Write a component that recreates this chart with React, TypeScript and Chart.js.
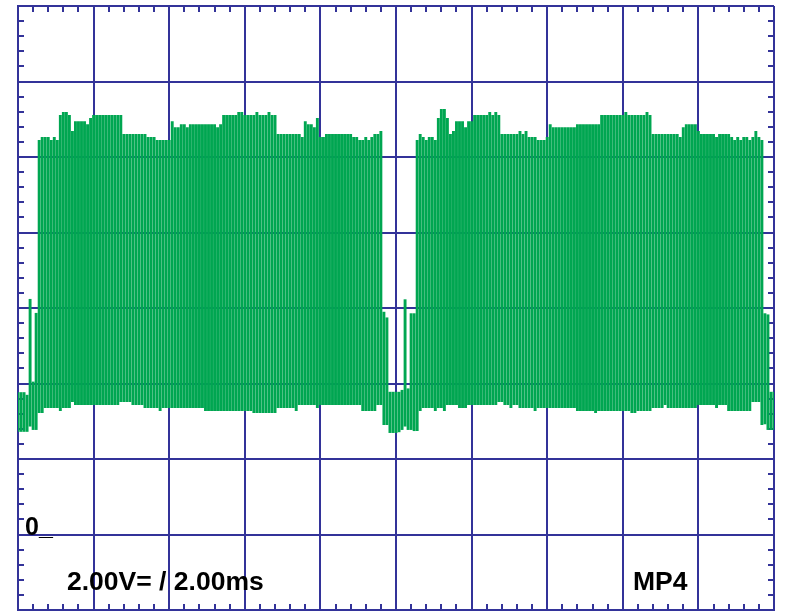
import React, { useEffect, useRef } from "react";
import { Chart, registerables } from "chart.js";

Chart.register(...registerables);

// ---- axes (oscilloscope screen: 2.00 V/div, 2.00 ms/div) ----
const X_MIN_MS = 0;
const X_MAX_MS = 20;
const X_DIV_MS = 2;
const Y_MIN_V = -2;
const Y_MAX_V = 14;
const Y_DIV_V = 2;
const MINOR_PER_DIV = 5;
const SAMPLE_MS = 0.08; // spacing of the min/max samples on the time axis

// ---- labels ----
const groundLabel = "0_";
const scaleLabel = "2.00V= / 2.00ms";
const channelLabel = "MP4";

// ---- waveform (volts): [max, min] of every sample column ----
// idle before first burst
const leadTop = [3.77, 3.77, 3.77, 3.7, 6.24, 4.05, 5.87];
const leadBottom = [2.72, 2.72, 2.72, 2.72, 2.86, 2.77, 2.77];

// first burst: runs of [number of samples, volts]
const burst1TopRuns: [number, number][] = [
  [1, 10.45], [3, 10.53], [1, 10.45], [1, 10.53], [1, 10.45], [1, 11.11], [2, 11.19], [1, 11.11],
  [1, 10.69], [4, 10.95], [1, 10.87], [1, 11.03], [10, 11.11], [8, 10.61], [3, 10.53], [5, 10.45],
  [1, 10.95], [2, 10.79], [2, 10.87], [1, 10.79], [9, 10.87], [1, 10.79], [1, 10.87], [5, 11.11],
  [2, 11.19], [4, 11.11], [1, 11.19], [3, 11.11], [1, 11.19], [2, 11.11], [8, 10.61], [1, 10.53],
  [1, 10.95], [2, 10.87], [1, 10.79], [1, 11.03], [2, 10.53], [9, 10.61], [2, 10.53], [2, 10.45],
  [1, 10.53], [1, 10.45], [1, 10.53], [2, 10.61], [1, 10.69],
];
const burst1BottomRuns: [number, number][] = [
  [2, 3.22], [5, 3.35], [1, 3.27], [3, 3.35], [1, 3.51], [15, 3.43], [4, 3.51], [4, 3.43],
  [5, 3.35], [1, 3.27], [14, 3.35], [16, 3.27], [8, 3.22], [6, 3.35], [1, 3.27], [6, 3.43],
  [1, 3.35], [14, 3.43], [5, 3.27], [2, 3.43],
];

// idle between bursts
const gapTop = [5.9, 5.75, 3.78, 3.78, 3.78, 3.78, 3.83, 6.23, 3.87, 5.86, 5.86];
const gapBottom = [2.9, 2.9, 2.69, 2.69, 2.69, 2.71, 2.77, 2.86, 2.77, 2.77, 2.74];

// second burst
const burst2TopRuns: [number, number][] = [
  [1, 10.45], [1, 10.61], [1, 10.53], [1, 10.45], [2, 10.53], [1, 10.45], [1, 11.03], [2, 11.27],
  [1, 11.03], [1, 10.61], [1, 10.69], [3, 10.95], [1, 10.79], [2, 10.95], [5, 11.11], [1, 11.19],
  [1, 11.11], [1, 11.19], [1, 11.11], [6, 10.61], [1, 10.69], [1, 10.61], [1, 10.69], [3, 10.53],
  [3, 10.45], [1, 10.53], [1, 10.87], [8, 10.79], [8, 10.87], [8, 11.11], [1, 11.19], [6, 11.11],
  [1, 11.19], [1, 11.11], [9, 10.61], [1, 10.53], [1, 10.79], [4, 10.87], [1, 10.69], [5, 10.61],
  [1, 10.53], [4, 10.61], [1, 10.53], [1, 10.45], [1, 10.53], [1, 10.45], [2, 10.53], [1, 10.45],
  [1, 10.53], [1, 10.69], [1, 10.53], [1, 10.45],
];
const burst2BottomRuns: [number, number][] = [
  [1, 2.74], [1, 3.27], [4, 3.35], [1, 3.27], [2, 3.35], [1, 3.27], [4, 3.43], [3, 3.35],
  [10, 3.43], [2, 3.51], [2, 3.43], [1, 3.35], [2, 3.43], [5, 3.35], [1, 3.27], [13, 3.35],
  [6, 3.27], [1, 3.22], [11, 3.27], [2, 3.22], [5, 3.27], [4, 3.35], [1, 3.43], [10, 3.35],
  [6, 3.43], [1, 3.35], [3, 3.43], [8, 3.27], [3, 3.51], [1, 2.9],
];

// idle after second burst
const tailTop = [5.86, 5.83, 3.78, 3.78];
const tailBottom = [2.92, 2.77, 2.77, 2.77];

// ---- colours ----
const GRID_COLOR = "#333399";
const TRACE_COLOR = "#00A651";

function expandRuns(runs: [number, number][]): number[] {
  const out: number[] = [];
  runs.forEach(([n, v]) => {
    for (let k = 0; k < n; k++) out.push(v);
  });
  return out;
}

const traceMax = [...leadTop, ...expandRuns(burst1TopRuns), ...gapTop, ...expandRuns(burst2TopRuns), ...tailTop];
const traceMin = [
  ...leadBottom,
  ...expandRuns(burst1BottomRuns),
  ...gapBottom,
  ...expandRuns(burst2BottomRuns),
  ...tailBottom,
];

const minorTicksPlugin = {
  id: "scopeMinorTicks",
  beforeDatasetsDraw(chart: any) {
    const { ctx, chartArea, scales } = chart;
    const { left, right, top, bottom } = chartArea;
    const xs = scales.x;
    const ys = scales.y;
    const len = 6;
    ctx.save();
    ctx.strokeStyle = GRID_COLOR;
    ctx.lineWidth = 2;
    ctx.beginPath();
    const xSteps = ((X_MAX_MS - X_MIN_MS) / X_DIV_MS) * MINOR_PER_DIV;
    for (let j = 1; j < xSteps; j++) {
      if (j % MINOR_PER_DIV === 0) continue;
      const v = X_MIN_MS + (j * X_DIV_MS) / MINOR_PER_DIV;
      const p = Math.round(xs.getPixelForValue(v));
      ctx.moveTo(p, top);
      ctx.lineTo(p, top + len);
      ctx.moveTo(p, bottom);
      ctx.lineTo(p, bottom - len);
    }
    const ySteps = ((Y_MAX_V - Y_MIN_V) / Y_DIV_V) * MINOR_PER_DIV;
    for (let j = 1; j < ySteps; j++) {
      if (j % MINOR_PER_DIV === 0) continue;
      const v = Y_MIN_V + (j * Y_DIV_V) / MINOR_PER_DIV;
      const p = Math.round(ys.getPixelForValue(v));
      ctx.moveTo(left, p);
      ctx.lineTo(left + len, p);
      ctx.moveTo(right, p);
      ctx.lineTo(right - len, p);
    }
    ctx.stroke();
    ctx.restore();
  },
};

const labelFont = '"Liberation Sans", Arial, Helvetica, sans-serif';

export default function App() {
  const canvasRef = useRef<HTMLCanvasElement | null>(null);

  useEffect(() => {
    const canvas = canvasRef.current;
    if (!canvas) return;
    const data = traceMax.map((hi, i) => ({ x: X_MIN_MS + i * SAMPLE_MS, y: [traceMin[i], hi] }));
    const chart = new Chart(canvas, {
      type: "bar",
      data: {
        datasets: [
          {
            data: data as any,
            backgroundColor: TRACE_COLOR,
            borderWidth: 0,
            categoryPercentage: 1,
            barPercentage: 0.96,
          } as any,
        ],
      },
      options: {
        animation: false,
        responsive: false,
        maintainAspectRatio: false,
        events: [],
        layout: { padding: { left: 18, top: 6, right: 12, bottom: 3 } },
        plugins: {
          legend: { display: false },
          tooltip: { enabled: false },
          title: { display: false },
        },
        scales: {
          x: {
            type: "linear",
            min: X_MIN_MS,
            max: X_MAX_MS,
            offset: false,
            ticks: { display: false, stepSize: X_DIV_MS },
            grid: { color: GRID_COLOR, lineWidth: 2, drawTicks: false, offset: false },
            border: { display: true, color: GRID_COLOR, width: 2 },
          },
          y: {
            type: "linear",
            min: Y_MIN_V,
            max: Y_MAX_V,
            ticks: { display: false, stepSize: Y_DIV_V },
            grid: { color: GRID_COLOR, lineWidth: 2, drawTicks: false },
            border: { display: true, color: GRID_COLOR, width: 2 },
          },
        },
      },
      plugins: [minorTicksPlugin],
    });
    return () => chart.destroy();
  }, []);

  const textBase: React.CSSProperties = {
    position: "absolute",
    fontFamily: labelFont,
    fontWeight: "bold",
    lineHeight: 1,
    color: "#000",
    whiteSpace: "pre",
    margin: 0,
  };

  return (
    <div style={{ position: "fixed", left: 0, top: 0, width: 786, height: 613, background: "#fff" }}>
      <canvas ref={canvasRef} width={786} height={613} style={{ display: "block", width: 786, height: 613 }} />
      <div style={{ ...textBase, left: 25, top: 514, fontSize: 25 }}>{groundLabel}</div>
      <div style={{ ...textBase, left: 67, top: 567.5, fontSize: 26.5 }}>{scaleLabel}</div>
      <div style={{ ...textBase, left: 633, top: 567.5, fontSize: 26.5 }}>{channelLabel}</div>
    </div>
  );
}
